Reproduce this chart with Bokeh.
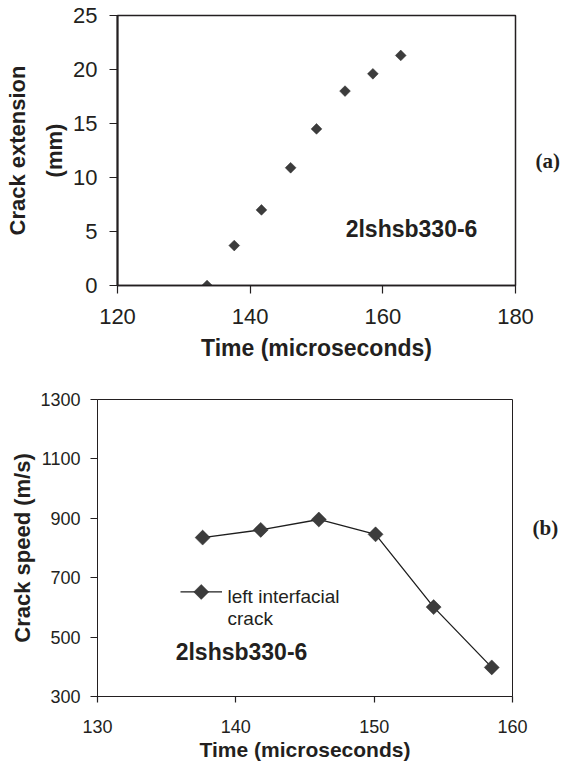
import numpy as np
from bokeh.plotting import figure
from bokeh.models import Range1d, Label, LinearAxis, FixedTicker
from bokeh.embed import file_html
from bokeh.resources import INLINE

# ---- data ----
ext_time = [133.5, 137.6, 141.7, 146.1, 150.0, 154.3, 158.5, 162.7]
ext_mm = [0.0, 3.7, 7.0, 10.9, 14.5, 18.0, 19.6, 21.3]

spd_time = [137.6, 141.8, 146.0, 150.1, 154.3, 158.5]
spd_ms = [835, 861, 896, 846, 601, 398]

x1_ticks = [120, 140, 160, 180]
y1_ticks = [0, 5, 10, 15, 20, 25]
x2_ticks = [130, 140, 150, 160]
y2_ticks = [300, 500, 700, 900, 1100, 1300]

specimen = "2lshsb330-6"
series_name = ["left interfacial", "crack"]
panel_tags = ["(a)", "(b)"]

FONT = "Liberation Sans"
INK = "#231f20"
MARK = "#3c3c3c"


def style(p, tick_px, title_px, tick_out, axis_w, outline_w):
    p.grid.visible = False
    p.outline_line_color = INK
    p.outline_line_width = outline_w
    for ax in (p.xaxis[0], p.yaxis[0]):
        ax.axis_line_color = INK
        ax.axis_line_width = axis_w
        ax.major_tick_line_color = INK
        ax.major_tick_line_width = 1.2
        ax.major_tick_in = 0
        ax.major_tick_out = tick_out
        ax.minor_tick_line_color = None
        ax.major_label_text_font = FONT
        ax.major_label_text_font_size = tick_px
        ax.major_label_text_color = INK
        ax.axis_label_text_font = FONT
        ax.axis_label_text_font_size = title_px
        ax.axis_label_text_font_style = "bold"
        ax.axis_label_text_color = INK


def tag_axis(p, ypos, text):
    ax = LinearAxis(ticker=FixedTicker(ticks=[ypos]), major_label_overrides={ypos: text})
    ax.axis_line_color = None
    ax.major_tick_line_color = None
    ax.minor_tick_line_color = None
    ax.major_tick_out = 0
    ax.major_tick_in = 0
    ax.major_label_standoff = 20
    ax.major_label_text_font = "Liberation Serif"
    ax.major_label_text_font_style = "bold"
    ax.major_label_text_font_size = "21px"
    ax.major_label_text_color = INK
    p.add_layout(ax, "right")


# ---- (a) crack extension ----
p1 = figure(width=571, height=372, x_range=Range1d(120, 180), y_range=Range1d(0, 25),
            output_backend="svg", toolbar_location=None,
            min_border_left=117, min_border_right=56, min_border_top=15, min_border_bottom=87)
style(p1, "22px", "23px", 8, 2, 1.5)
p1.xaxis.ticker = x1_ticks
p1.yaxis.ticker = y1_ticks
p1.xaxis.axis_label = "Time (microseconds)"
p1.xaxis.major_label_standoff = 15
p1.xaxis.axis_label_standoff = 8
p1.xaxis.axis_line_width = 1.6
p1.yaxis.major_label_standoff = 12
p1.yaxis.axis_label = "Crack extension\n(mm)"
p1.yaxis.axis_label_text_font_size = "22px"
p1.yaxis.axis_label_text_line_height = 1.5
p1.yaxis.axis_label_standoff = 3
tag_axis(p1, 11.5, panel_tags[0])

p1.scatter(ext_time, ext_mm, marker="square", size=7.6, angle=np.pi / 4,
           fill_color=MARK, line_color="#2a2a2a", line_width=0.5)

p1.add_layout(Label(x=154.4, y=5.2, text=specimen, text_font=FONT, text_font_size="23px",
                    text_font_style="bold", text_color=INK, text_baseline="middle", text_align="left"))

# ---- (b) crack speed ----
p2 = figure(width=571, height=392, x_range=Range1d(130, 160), y_range=Range1d(300, 1300),
            output_backend="svg", toolbar_location=None,
            min_border_left=97, min_border_right=59, min_border_top=27, min_border_bottom=68)
style(p2, "18px", "21px", 6, 1, 1)
p2.xaxis.ticker = x2_ticks
p2.yaxis.ticker = y2_ticks
p2.xaxis.axis_label = "Time (microseconds)"
p2.xaxis.major_label_standoff = 17
p2.xaxis.axis_label_standoff = 2
p2.yaxis.major_tick_out = 7
p2.yaxis.major_label_standoff = 10
p2.yaxis.axis_label = "Crack speed (m/s)"
p2.yaxis.axis_label_text_font_size = "22px"
p2.yaxis.axis_label_standoff = 2
tag_axis(p2, 867, panel_tags[1])

p2.line(spd_time, spd_ms, line_color="#1e1e1e", line_width=1.3)
p2.scatter(spd_time, spd_ms, marker="square", size=10.6, angle=np.pi / 4,
           fill_color=MARK, line_color="#2a2a2a", line_width=0.5)

# legend (drawn by hand, as in the reference)
p2.line([136.0, 139.0], [652, 652], line_color="#1e1e1e", line_width=1.3)
p2.scatter([137.5], [652], marker="square", size=10.6, angle=np.pi / 4,
           fill_color=MARK, line_color="#2a2a2a", line_width=0.5)
p2.add_layout(Label(x=139.4, y=636, text=series_name[0], text_font=FONT, text_font_size="19px",
                    text_color=INK, text_baseline="alphabetic", text_align="left"))
p2.add_layout(Label(x=139.4, y=562, text=series_name[1], text_font=FONT, text_font_size="19px",
                    text_color=INK, text_baseline="alphabetic", text_align="left"))

p2.add_layout(Label(x=135.65, y=450, text=specimen, text_font=FONT, text_font_size="23px",
                    text_font_style="bold", text_color=INK, text_baseline="middle", text_align="left"))

open("out.html", "w").write(file_html([p1, p2], INLINE))
